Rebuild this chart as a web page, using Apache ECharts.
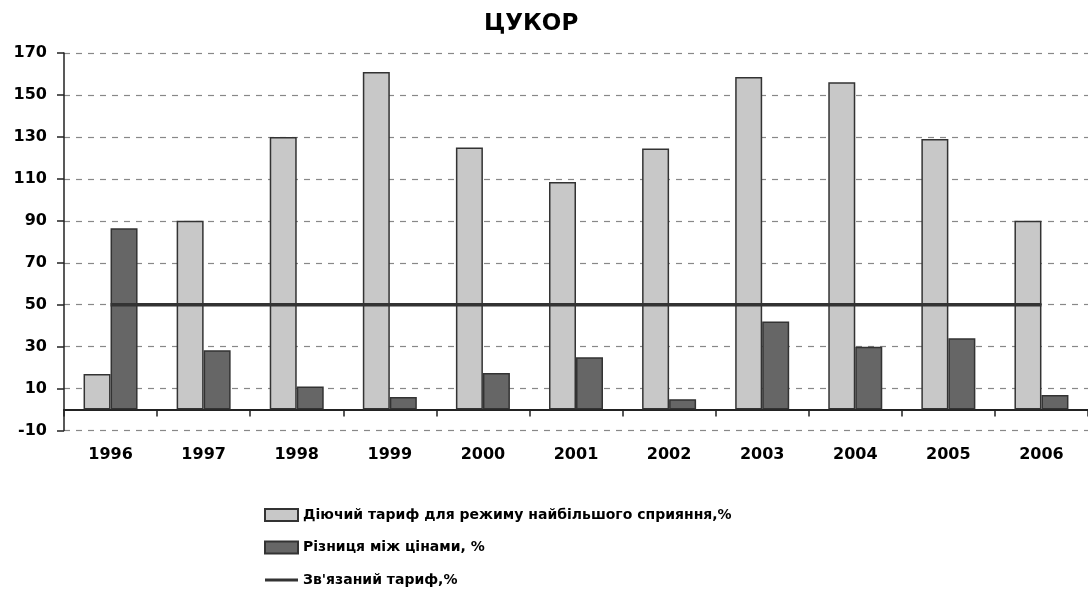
<!DOCTYPE html>
<html>
<head>
<meta charset="utf-8">
<script src="https://cdn.jsdelivr.net/npm/echarts@6/dist/echarts.min.js"></script>
<style>html,body{margin:0;padding:0;background:#fff}#c{width:1088px;height:591px}</style>
</head>
<body>
<div id="c"></div>
<script>
const years = ['1996','1997','1998','1999','2000','2001','2002','2003','2004','2005','2006'];
const appliedTariff = [17, 90, 130, 161, 125, 108.5, 124.5, 158.5, 156, 129, 90];
const priceGap = [86.5, 28.3, 11, 6, 17.5, 25, 5, 42, 30, 34, 7];
const boundTariff = [50, 50, 50, 50, 50, 50, 50, 50, 50, 50, 50];
const seriesNames = ['Діючий тариф для режиму найбільшого сприяння,%', 'Різниця між цінами, %', "Зв'язаний тариф,%"];

const font = 'DejaVu Sans';
const chart = echarts.init(document.getElementById('c'));
chart.setOption({
  animation: false,
  backgroundColor: '#fff',
  title: {
    text: 'ЦУКОР',
    left: 479, top: 8,
    textStyle: {fontFamily: font, fontWeight: 'bold', fontSize: 23, color: '#000'}
  },
  legend: {
    orient: 'vertical',
    left: 264, top: 508,
    padding: 0,
    itemWidth: 33, itemHeight: 12, itemGap: 18.5,
    textStyle: {fontFamily: font, fontWeight: 'bold', fontSize: 14, color: '#000'},
    data: [
      {name: seriesNames[0], icon: 'rect'},
      {name: seriesNames[1], icon: 'rect'},
      {name: seriesNames[2], icon: 'path://M0,0 L0,0 M0,4.5 L33,4.5 L33,7.5 L0,7.5 Z M33,12 L33,12'}
    ]
  },
  grid: {left: 64, right: -8, top: 53, bottom: 160.4, containLabel: false},
  xAxis: {
    type: 'category',
    data: years,
    axisLine: {onZero: true, lineStyle: {color: '#222', width: 2}},
    axisTick: {show: true, length: 7, lineStyle: {color: '#222', width: 1.5}},
    axisLabel: {margin: 16, fontFamily: font, fontWeight: 'bold', fontSize: 16, color: '#000'},
    splitLine: {show: false}
  },
  yAxis: {
    type: 'value',
    min: -10, max: 170, interval: 20,
    axisLine: {show: true, onZero: false, lineStyle: {color: '#222', width: 1.5}},
    axisTick: {show: true, length: 7, lineStyle: {color: '#222', width: 1.5}},
    axisLabel: {margin: 17, fontFamily: font, fontWeight: 'bold', fontSize: 16, color: '#000'},
    splitLine: {show: true, lineStyle: {color: '#888', type: [6, 6], width: 1.2}}
  },
  series: [
    {
      name: seriesNames[0], type: 'bar', data: appliedTariff,
      barWidth: 27, barGap: '0%',
      itemStyle: {color: '#c8c8c8', borderColor: '#333', borderWidth: 1.5}
    },
    {
      name: seriesNames[1], type: 'bar', data: priceGap,
      barWidth: 27, barGap: '0%',
      itemStyle: {color: '#666666', borderColor: '#333', borderWidth: 1.5}
    },
    {
      name: seriesNames[2], type: 'line', data: boundTariff,
      symbol: 'none', showSymbol: false,
      lineStyle: {color: '#333', width: 3.5},
      itemStyle: {color: '#333'}
    }
  ]
});
</script>
</body>
</html>
